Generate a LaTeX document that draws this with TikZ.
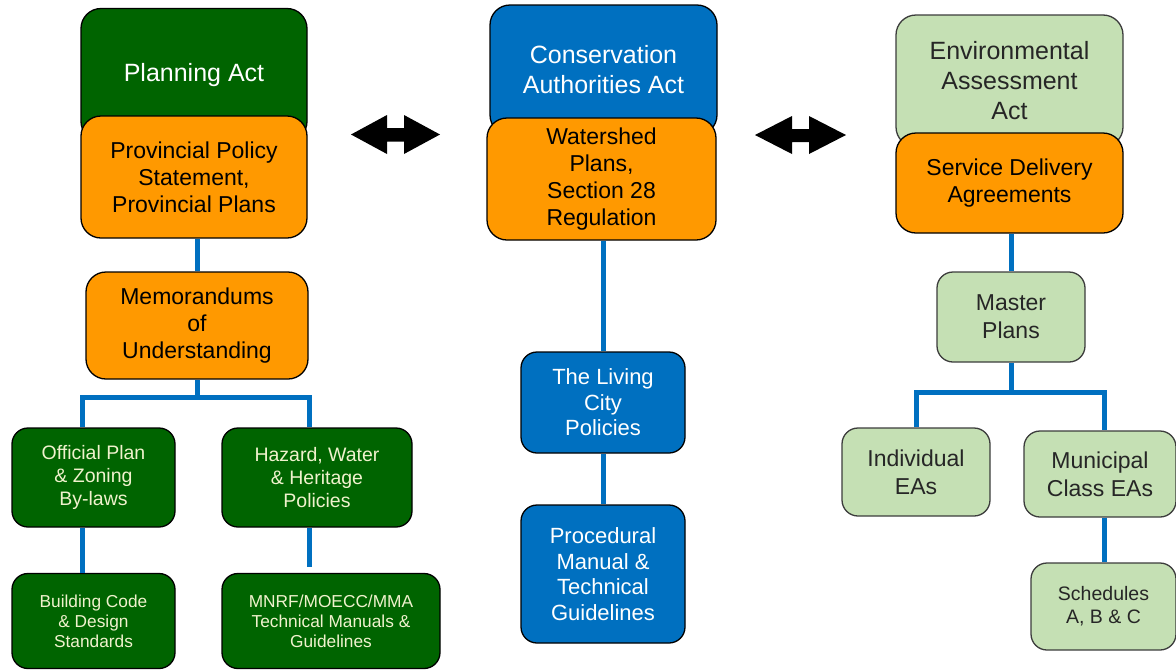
\documentclass[tikz,border=0pt]{standalone}
\usepackage{fontspec}
\setmainfont{Liberation Sans}
\definecolor{dkgreen}{RGB}{0,100,0}
\definecolor{orng}{RGB}{255,153,0}
\definecolor{cblue}{RGB}{0,112,192}
\definecolor{ltgreen}{RGB}{197,224,180}
\definecolor{cream}{RGB}{240,242,205}
\definecolor{dkgray}{RGB}{60,60,60}
\tikzset{
  box/.style={draw=black, line width=1.3pt, rounded corners=20pt, inner sep=0pt, align=center},
  sbox/.style={box, rounded corners=16pt},
  greenbox/.style={fill=dkgreen, text=cream},
  orangebox/.style={fill=orng, text=black},
  bluebox/.style={fill=cblue, text=white},
  lightbox/.style={fill=ltgreen, text=black!85, draw=dkgray},
  ftop/.style={font=\fontsize{25}{30}\selectfont},
  fmid/.style={font=\fontsize{23}{27}\selectfont},
  fmidb/.style={font=\fontsize{23}{28}\selectfont},
  fliv/.style={font=\fontsize{22}{25.6}\selectfont},
  fsmall/.style={font=\fontsize{19.5}{23}\selectfont},
  ftiny/.style={font=\fontsize{17.3}{20}\selectfont},
  conn/.style={draw=cblue, line width=5pt},
  bigarrow/.style={fill=black}
}
\begin{document}
\begin{tikzpicture}[x=1pt,y=-1pt]
\useasboundingbox (0,0) rectangle (1176,670);

% Left column
\node[box, greenbox, ftop, text=white, minimum width=226pt, minimum height=133pt] (pa) at (194,75) {Planning Act};
\node[box, orangebox, fmid, minimum width=226pt, minimum height=122pt] (pps) at (194,177) {Provincial Policy\\Statement,\\Provincial Plans};
\node[box, orangebox, fmid, minimum width=222pt, minimum height=107pt] (memo) at (197,325.5) {Memorandums\\of\\Understanding};
\node[sbox, greenbox, fsmall, minimum width=163pt, minimum height=99pt] (official) at (93.5,477.5) {Official Plan\\\& Zoning\\By-laws};
\node[sbox, greenbox, fsmall, minimum width=190pt, minimum height=99pt] (hazard) at (317,477.5) {Hazard, Water\\\& Heritage\\Policies};
\node[sbox, greenbox, ftiny, minimum width=163pt, minimum height=95pt] (building) at (93.5,621) {Building Code\\\& Design\\Standards};
\node[sbox, greenbox, ftiny, minimum width=218pt, minimum height=95pt] (mnrf) at (331,621) {MNRF/MOECC/MMA\\Technical Manuals \&\\Guidelines};

% Middle column
\node[box, bluebox, ftop, minimum width=227pt, minimum height=130pt] (ca) at (603.5,70) {Conservation\\Authorities Act};
\node[box, orangebox, fmid, minimum width=229pt, minimum height=122pt] (ws) at (601.5,179) {Watershed\\Plans,\\Section 28\\Regulation};
\node[sbox, bluebox, fliv, minimum width=164pt, minimum height=101pt] (living) at (603,402.5) {The Living\\City\\Policies};
\node[sbox, bluebox, fliv, minimum width=164pt, minimum height=138pt] (proc) at (603,574) {Procedural\\Manual \&\\Technical\\Guidelines};

% Right column
\node[box, lightbox, ftop, minimum width=227pt, minimum height=132pt] (ea) at (1009.5,81) {Environmental\\Assessment\\Act};
\node[box, orangebox, fmid, minimum width=227pt, minimum height=100pt] (sda) at (1009.5,183) {Service Delivery\\Agreements};
\node[sbox, lightbox, fmidb, minimum width=148pt, minimum height=90pt] (master) at (1011,317) {Master\\Plans};
\node[sbox, lightbox, fmidb, minimum width=148pt, minimum height=88pt] (indiv) at (916,472) {Individual\\EAs};
\node[sbox, lightbox, fmidb, minimum width=152pt, minimum height=86pt] (muni) at (1100,474) {Municipal\\Class EAs};
\node[sbox, lightbox, fsmall, minimum width=145pt, minimum height=87pt] (sched) at (1103.5,606.5) {Schedules\\A, B \& C};

% Left connectors
\coordinate (LA) at (82,397);
\coordinate (LB) at (309,397);
\coordinate (LC) at (309,567);
\draw[conn] (pps.south -| memo.north) -- (memo.north);
\draw[conn] (memo.south) -- (memo.south |- LA);
\draw[conn] (official.north -| LA) -- (LA) -- (LB) -- (hazard.north -| LB);
\draw[conn] (official.south -| LA) -- (building.north -| LA);
\draw[conn] (hazard.south -| LC) -- (LC);

% Middle connectors
\draw[conn] (ws.south -| living.north) -- (living.north);
\draw[conn] (living.south) -- (proc.north);

% Right connectors
\coordinate (RA) at (916,392);
\coordinate (RB) at (1104,392);
\draw[conn] (sda.south -| master.north) -- (master.north);
\draw[conn] (master.south) -- (master.south |- RA);
\draw[conn] (indiv.north -| RA) -- (RA) -- (RB) -- (muni.north -| RB);
\draw[conn] (muni.south -| RB) -- (sched.north -| RB);

% Double arrows
\fill[bigarrow] (351,134.5) -- (387,115) -- (387,128) -- (404,128) -- (404,115) -- (440,134.5) -- (404,154) -- (404,141.5) -- (387,141.5) -- (387,154) -- cycle;
\fill[bigarrow] (755,135) -- (792,116) -- (792,129) -- (809,129) -- (809,116) -- (846,135) -- (809,154) -- (809,142) -- (792,142) -- (792,154) -- cycle;
\end{tikzpicture}
\end{document}
